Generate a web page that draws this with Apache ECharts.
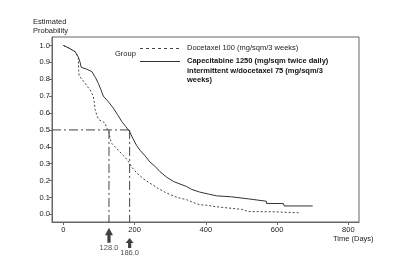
<!DOCTYPE html>
<html><head><meta charset="utf-8">
<script src="https://cdn.jsdelivr.net/npm/echarts@6/dist/echarts.min.js"></script>
<style>html,body{margin:0;padding:0;background:#fff}#c{width:400px;height:272px}</style>
</head><body><div id="c"></div>
<script>
var xTicks = [0, 200, 400, 600, 800];
var yTicks = [0, 0.1, 0.2, 0.3, 0.4, 0.5, 0.6, 0.7, 0.8, 0.9, 1.0];
var seriesNames = ['Docetaxel 100 (mg/sqm/3 weeks)', 'Capecitabine 1250 (mg/sqm twice daily)\nintermittent w/docetaxel 75 (mg/sqm/3\nweeks)'];
var docetaxel = [[0,1.0],[15,0.985],[33,0.963],[42,0.93],[43,0.85],[44,0.82],[52,0.80],[61,0.776],[68,0.755],[75,0.737],[84,0.70],[87,0.66],[89,0.62],[95,0.58],[100,0.56],[110,0.55],[117,0.54],[122,0.51],[128,0.49],[131,0.45],[136,0.42],[145,0.40],[154,0.38],[168,0.35],[182,0.315],[192,0.28],[206,0.245],[225,0.21],[243,0.185],[265,0.155],[290,0.126],[320,0.10],[346,0.087],[365,0.07],[383,0.057],[400,0.055],[430,0.045],[477,0.035],[500,0.03],[519,0.017],[600,0.015],[627,0.012],[660,0.01]];
var combo = [[0,1.0],[15,0.985],[33,0.963],[42,0.93],[47,0.90],[50,0.87],[65,0.86],[80,0.845],[90,0.81],[98,0.776],[105,0.74],[112,0.70],[125,0.67],[140,0.63],[152,0.59],[164,0.55],[175,0.52],[186,0.49],[195,0.45],[205,0.41],[215,0.38],[230,0.345],[243,0.31],[257,0.285],[271,0.253],[290,0.22],[309,0.195],[327,0.18],[346,0.165],[360,0.148],[383,0.132],[408,0.12],[430,0.11],[472,0.104],[472,0.094],[519,0.092],[522,0.081],[570,0.078],[570,0.065],[618,0.064],[620,0.05],[700,0.05]];
var medians = [128, 186];
var medianLabels = ['128.0', '186.0'];
var arrowY = [-0.124, -0.169];
var arrowH = [15, 10];

var chart = echarts.init(document.getElementById('c'), null, {renderer: 'canvas'});
var txt = '#222';
var ff = 'Liberation Sans, Arial, sans-serif';
var refStyle = {color: '#444', width: 1, type: [9, 3, 2, 3]};
var arrowPath = 'path://M5,0 L10,5 L7,5 L7,10 L3,10 L3,5 L0,5 Z';

var option = {
  animation: false,
  grid: {left: 52, top: 37, right: 41, bottom: 50, show: true, borderColor: '#666', borderWidth: 1, backgroundColor: 'transparent'},
  xAxis: {
    type: 'value', min: -32, max: 830,
    axisLine: {show: true, onZero: false, lineStyle: {color: '#666'}},
    splitLine: {show: false},
    axisTick: {show: true, length: 3, customValues: xTicks, lineStyle: {color: '#666'}},
    axisLabel: {customValues: xTicks, color: txt, fontSize: 7.5, fontFamily: ff, margin: 4}
  },
  yAxis: {
    type: 'value', min: -0.045, max: 1.05,
    axisLine: {show: true, onZero: false, lineStyle: {color: '#666'}},
    splitLine: {show: false},
    axisTick: {show: true, length: 3, customValues: yTicks, lineStyle: {color: '#666'}},
    axisLabel: {customValues: yTicks, color: txt, fontSize: 7.5, fontFamily: ff, margin: 2,
      formatter: function (v) { return v.toFixed(1); }}
  },
  series: [
    {name: seriesNames[0], type: 'line', data: docetaxel, showSymbol: false, symbol: 'none',
      lineStyle: {color: '#444', width: 1, type: [2, 2]}, z: 3},
    {name: seriesNames[1], type: 'line', data: combo, showSymbol: false, symbol: 'none',
      lineStyle: {color: '#333', width: 1}, z: 3},
    {type: 'line', data: [[-32, 0.5], [medians[1], 0.5]], symbol: 'none', lineStyle: refStyle, z: 2},
    {type: 'line', data: [[medians[0], 0.5], [medians[0], -0.045]], symbol: 'none', lineStyle: refStyle, z: 2},
    {type: 'line', data: [[medians[1], 0.5], [medians[1], -0.045]], symbol: 'none', lineStyle: refStyle, z: 2},
    {type: 'scatter', clip: false, symbol: arrowPath, symbolKeepAspect: false,
      data: medians.map(function (m, i) {
        return {value: [m, arrowY[i]], symbolSize: [8, arrowH[i]],
          label: {show: true, position: 'bottom', distance: 1, formatter: medianLabels[i], color: txt, fontSize: 7.5, fontFamily: ff}};
      }),
      itemStyle: {color: '#111'}, z: 5}
  ],
  graphic: [
    {type: 'text', left: 33, top: 17, style: {text: 'Estimated\nProbability', fill: txt, font: '7.5px ' + ff, lineHeight: 9}},
    {type: 'text', left: 333, top: 235, style: {text: 'Time (Days)', fill: txt, font: '7.5px ' + ff}},
    {type: 'text', left: 115, top: 50, style: {text: 'Group', fill: txt, font: '7.5px ' + ff}},
    {type: 'line', shape: {x1: 140, y1: 48.5, x2: 182, y2: 48.5}, style: {stroke: '#444', lineWidth: 1, lineDash: [3, 3]}},
    {type: 'text', left: 187, top: 44, style: {text: seriesNames[0], fill: txt, font: '7.5px ' + ff}},
    {type: 'line', shape: {x1: 140, y1: 61.5, x2: 180, y2: 61.5}, style: {stroke: '#333', lineWidth: 1}},
    {type: 'text', left: 187, top: 56, style: {text: seriesNames[1], fill: '#111', font: 'bold 7.5px ' + ff, lineHeight: 9.7}}
  ]
};
chart.setOption(option);
</script></body></html>
